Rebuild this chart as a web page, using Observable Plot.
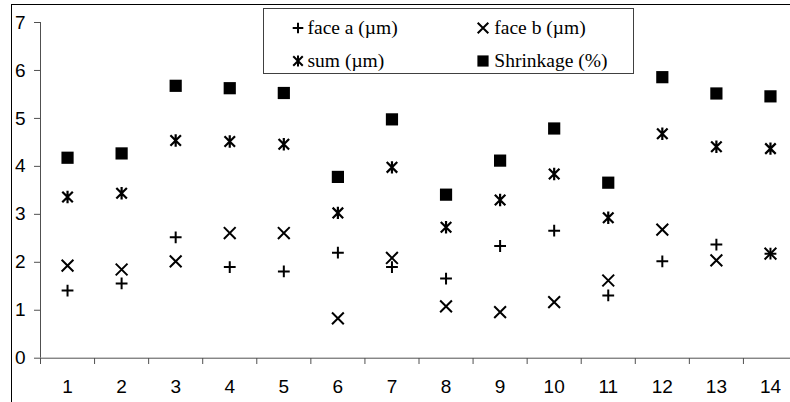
<!DOCTYPE html>
<html><head><meta charset="utf-8">
<script src="https://cdn.jsdelivr.net/npm/d3@7"></script>
<script src="https://cdn.jsdelivr.net/npm/@observablehq/plot@0.6"></script>
<style>
body{margin:0;background:#fff;}
#wrap{position:relative;width:790px;height:402px;overflow:hidden;background:#fff;}
#frame{position:absolute;left:11px;top:4px;width:820px;height:440px;border:1px solid #000;box-sizing:border-box;}
#chart{position:absolute;left:0;top:0;}
#legend{position:absolute;left:263px;top:8px;width:371px;height:66px;border:1px solid #404040;box-sizing:border-box;background:#fff;color:#000;}
#legend .sym{position:absolute;width:16px;height:16px;}
#legend .txt{position:absolute;line-height:22px;white-space:nowrap;font-family:"Liberation Serif","DejaVu Serif",serif;font-size:19.5px;}
</style></head><body>
<div id="wrap"><div id="frame"></div><div id="chart"></div><div id="legend"></div></div>
<script>
const samples = [1,2,3,4,5,6,7,8,9,10,11,12,13,14];
const faceA =     [1.41,1.56,2.52,1.90,1.81,2.20,1.90,1.66,2.34,2.66,1.31,2.02,2.37,2.18];
const faceB =     [1.93,1.85,2.02,2.61,2.61,0.83,2.09,1.08,0.96,1.17,1.62,2.68,2.04,2.18];
const sum =       [3.36,3.44,4.54,4.52,4.46,3.03,3.98,2.73,3.30,3.84,2.93,4.68,4.41,4.37];
const shrinkage = [4.18,4.27,5.68,5.63,5.53,3.78,4.98,3.41,4.12,4.79,3.66,5.86,5.52,5.46];
const yTicks = [0,1,2,3,4,5,6,7];
const xEdges = [0.5,1.5,2.5,3.5,4.5,5.5,6.5,7.5,8.5,9.5,10.5,11.5,12.5,13.5,14.5];
const seriesNames = ["face a (\u00b5m)","face b (\u00b5m)","sum (\u00b5m)","Shrinkage (%)"];

function mk(fn){return {draw(ctx,size){const r=Math.sqrt(size/Math.PI); fn(ctx,r);}};}
const plusSym = mk((c,r)=>{c.moveTo(-r,0);c.lineTo(r,0);c.moveTo(0,-r);c.lineTo(0,r);});
const timesSym = mk((c,r)=>{const k=r*0.95;c.moveTo(-k,-k);c.lineTo(k,k);c.moveTo(-k,k);c.lineTo(k,-k);});
const starSym = mk((c,r)=>{const k=r*0.85;c.moveTo(-k,-k);c.lineTo(k,k);c.moveTo(-k,k);c.lineTo(k,-k);c.moveTo(0,-r);c.lineTo(0,r);});
const squareSym = mk((c,r)=>{c.rect(-r,-r,2*r,2*r);});

const rows = (vals)=>samples.map((s,i)=>({sample:s, value:vals[i]}));
const axisFont = "'Liberation Sans', Arial, sans-serif";

const chart = Plot.plot({
  width:790, height:402,
  marginLeft:40, marginTop:22, marginBottom:44, marginRight:0,
  x:{type:"linear", domain:[0.5,14.5], range:[40,797]},
  y:{domain:[0,7], range:[357.7,22]},
  style:{fontFamily:axisFont, fontSize:"19px", color:"#000", background:"transparent", overflow:"visible"},
  marks:[
    Plot.ruleX([0.5],{x:d=>d, y1:0, y2:7, stroke:"#505050", strokeWidth:1}),
    Plot.ruleY([0],{y:d=>d, x1:0.5, x2:14.5, stroke:"#505050", strokeWidth:1}),
    Plot.axisY({ticks:yTicks, tickSize:6, tickPadding:9, stroke:"#505050", fill:"#000", label:null, tickFormat:d=>String(d), fontSize:19, fontFamily:axisFont}),
    Plot.axisX({ticks:xEdges, tickSize:6, tickFormat:()=>"", stroke:"#505050", label:null}),
    Plot.axisX({ticks:samples, tickSize:0, tickPadding:21, fill:"#000", label:null, tickFormat:d=>String(d), fontSize:19, fontFamily:axisFont}),
    Plot.dot(rows(shrinkage),{x:"sample", y:"value", symbol:squareSym, r:6.1, fill:"#000", stroke:"none"}),
    Plot.dot(rows(sum),{x:"sample", y:"value", symbol:starSym, r:6.2, fill:"none", stroke:"#000", strokeWidth:2.2}),
    Plot.dot(rows(faceB),{x:"sample", y:"value", symbol:timesSym, r:6.2, fill:"none", stroke:"#000", strokeWidth:2}),
    Plot.dot(rows(faceA),{x:"sample", y:"value", symbol:plusSym, r:5.9, fill:"none", stroke:"#000", strokeWidth:2})
  ]
});
document.getElementById("chart").appendChild(chart);

// legend
const legend = document.getElementById("legend");
const syms = [plusSym, timesSym, starSym, squareSym];
const items = [
  {cx:33.7, cy:18.5, tx:43.5},
  {cx:218.7, cy:18.5, tx:230.3},
  {cx:33.7, cy:51.5, tx:43.5},
  {cx:218.7, cy:51.5, tx:230.3}
];
items.forEach((it,i)=>{
  const svg = d3.create("svg").attr("class","sym").attr("width",16).attr("height",16)
    .attr("viewBox","-8 -8 16 16")
    .style("left",(it.cx-8)+"px").style("top",(it.cy-8)+"px");
  const p = d3.path();
  const isSq = i===3;
  const rr = isSq?5.6:(i===0?5.3:5.6);
  syms[i].draw(p, rr*rr*Math.PI);
  svg.append("path").attr("d",p.toString())
    .attr("fill",isSq?"#000":"none").attr("stroke",isSq?"none":"#000").attr("stroke-width",2);
  legend.appendChild(svg.node());
  const t = document.createElement("div");
  t.className="txt"; t.textContent = seriesNames[i];
  t.style.left = it.tx+"px"; t.style.top = (it.cy-11)+"px";
  legend.appendChild(t);
});
</script>
</body></html>
